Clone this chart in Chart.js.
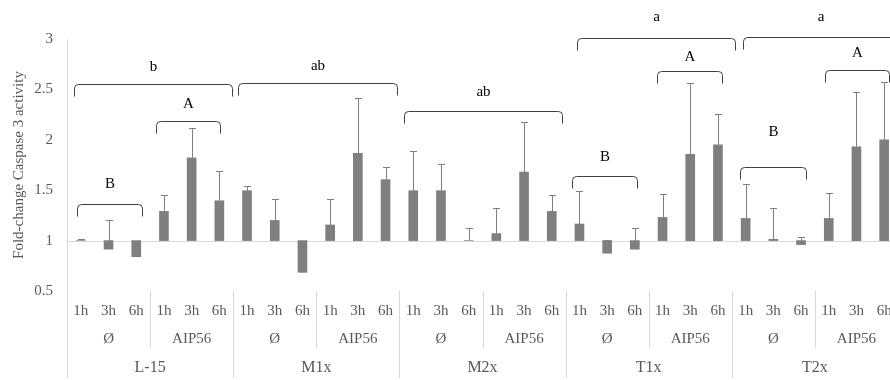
<!DOCTYPE html>
<html><head><meta charset="utf-8">
<script src="https://cdn.jsdelivr.net/npm/chart.js@4/dist/chart.umd.min.js"></script>
<style>
html,body{margin:0;padding:0;background:#fff;overflow:hidden;width:890px;height:380px}
#wrap{position:relative;width:900px;height:380px}
</style></head>
<body><div id="wrap"><canvas id="c"></canvas></div>
<script>
const groups = ['L-15','M1x','M2x','T1x','T2x'];
const treatments = ['Ø','AIP56'];
const times = ['1h','3h','6h'];
const yTicks = [0.5, 1, 1.5, 2, 2.5, 3];
const yTickLabels = ['0.5','1','1.5','2','2.5','3'];

const foldChange = [
  1.00, 0.915, 0.84,  1.29, 1.82, 1.395,
  1.495, 1.20, 0.685, 1.155, 1.865, 1.605,
  1.495, 1.495, 1.00, 1.07, 1.68, 1.29,
  1.165, 0.875, 0.915, 1.23, 1.855, 1.95,
  1.22, 1.013, 0.96, 1.22, 1.93, 2.00
];
const errorTop = [
  1.02, 1.20, 0.91,  1.455, 2.12, 1.69,
  1.545, 1.41, 0.72, 1.41, 2.41, 1.73,
  1.89, 1.755, 1.125, 1.325, 2.18, 1.455,
  1.495, 1.005, 1.125, 1.465, 2.56, 2.26,
  1.565, 1.325, 1.033, 1.475, 2.47, 2.57
];

// significance brackets: from/to in category index units, y level, label
const groupBracketFrom  = [-0.255, 5.69, 11.67, 17.90, 23.90];
const groupBracketTo    = [5.45, 11.41, 17.37, 23.62, 29.50];
const groupBracketY     = [2.556, 2.566, 2.283, 3.014, 3.017];
const groupBracketLabel = ['b','ab','ab','a','a'];
const groupLabelY       = [2.723, 2.733, 2.469, 3.216, 3.216];

const subBracketFrom  = [-0.146, 2.71, 17.72, 20.79, 23.81, 26.87];
const subBracketTo    = [2.20, 5.03, 20.09, 23.16, 26.17, 29.18];
const subBracketY     = [1.364, 2.19, 1.645, 2.681, 1.735, 2.691];
const subBracketLabel = ['B','A','B','A','B','A'];
const subLabelY       = [1.563, 2.35, 1.827, 2.823, 2.081, 2.861];

const labels = [];
groups.forEach(g => treatments.forEach(t => times.forEach(h => labels.push(g + ' ' + t + ' ' + h))));

const SERIF = '"Liberation Serif", "Times New Roman", serif';
const AXIS_GRAY = '#595959';
const LINE_GRAY = '#d9d9d9';

function bracket(ctx, x1, x2, y, depth) {
  const r = 4;
  ctx.beginPath();
  ctx.moveTo(x1, y + depth);
  ctx.lineTo(x1, y + r);
  ctx.quadraticCurveTo(x1, y, x1 + r, y);
  ctx.lineTo(x2 - r, y);
  ctx.quadraticCurveTo(x2, y, x2, y + r);
  ctx.lineTo(x2, y + depth);
  ctx.stroke();
}

const decorPlugin = {
  id: 'decor',
  beforeDatasetsDraw(chart) {
    const {ctx, chartArea, scales: {x, y}} = chart;
    ctx.save();
    ctx.strokeStyle = LINE_GRAY;
    ctx.lineWidth = 1;
    const y1 = Math.round(y.getPixelForValue(1)) + 0.5;
    ctx.beginPath();
    ctx.moveTo(chartArea.left, y1);
    ctx.lineTo(chartArea.right, y1);
    ctx.stroke();
    ctx.restore();
  },
  afterDatasetsDraw(chart) {
    const {ctx, chartArea, scales: {x, y}} = chart;
    const meta = chart.getDatasetMeta(0);
    ctx.save();
    // error bars
    ctx.strokeStyle = '#7f7f7f';
    ctx.lineWidth = 1;
    meta.data.forEach((bar, i) => {
      const cx = Math.round(bar.x) + 0.5;
      const ya = y.getPixelForValue(foldChange[i]);
      const yb = Math.round(y.getPixelForValue(errorTop[i])) + 0.5;
      ctx.beginPath();
      ctx.moveTo(cx, ya);
      ctx.lineTo(cx, yb);
      ctx.moveTo(cx - 3.5, yb);
      ctx.lineTo(cx + 3.5, yb);
      ctx.stroke();
    });

    // category label table
    const bottom = chartArea.bottom;
    ctx.strokeStyle = LINE_GRAY;
    const lx = Math.round(chartArea.left) + 0.5;
    ctx.beginPath();
    ctx.moveTo(lx, chartArea.top);
    ctx.lineTo(lx, 378);
    ctx.stroke();
    for (let k = 1; k <= 10; k++) {
      const sx = Math.round(x.getPixelForValue(k * 3 - 0.5)) + 0.5;
      const isGroup = k % 2 === 0;
      ctx.beginPath();
      ctx.moveTo(sx, bottom);
      ctx.lineTo(sx, isGroup ? 378 : 348);
      ctx.stroke();
    }
    ctx.fillStyle = AXIS_GRAY;
    ctx.textAlign = 'center';
    ctx.textBaseline = 'middle';
    ctx.font = '15px ' + SERIF;
    labels.forEach((l, i) => {
      ctx.fillText(times[i % 3], x.getPixelForValue(i), bottom + 20);
    });
    for (let j = 0; j < 10; j++) {
      ctx.fillText(treatments[j % 2], x.getPixelForValue(j * 3 + 1), bottom + 48);
    }
    ctx.font = '16px ' + SERIF;
    groups.forEach((g, j) => {
      ctx.fillText(g, x.getPixelForValue(j * 6 + 2.5), bottom + 77);
    });

    // significance brackets
    ctx.strokeStyle = '#404040';
    ctx.fillStyle = '#000';
    ctx.font = '15px ' + SERIF;
    const drawSet = (from, to, yy, lab, ly) => {
      from.forEach((f, i) => {
        const x1 = Math.round(x.getPixelForValue(f)) + 0.5;
        const x2 = Math.round(x.getPixelForValue(to[i])) + 0.5;
        const py = Math.round(y.getPixelForValue(yy[i])) + 0.5;
        bracket(ctx, x1, x2, py, 12);
        ctx.fillText(lab[i], (x1 + x2) / 2, y.getPixelForValue(ly[i]));
      });
    };
    drawSet(groupBracketFrom, groupBracketTo, groupBracketY, groupBracketLabel, groupLabelY);
    drawSet(subBracketFrom, subBracketTo, subBracketY, subBracketLabel, subLabelY);
    ctx.restore();
  }
};

new Chart(document.getElementById('c'), {
  type: 'bar',
  data: {
    labels: labels,
    datasets: [{
      data: foldChange,
      base: 1,
      backgroundColor: '#7f7f7f',
      borderWidth: 0,
      barThickness: 9
    }]
  },
  options: {
    responsive: true,
    maintainAspectRatio: false,
    animation: false,
    events: [],
    layout: { padding: { top: 39, bottom: 89, right: 2, left: 0 } },
    plugins: { legend: { display: false }, tooltip: { enabled: false } },
    scales: {
      x: { display: false },
      y: {
        min: 0.5, max: 3,
        afterFit(s) { s.width = 67; },
        afterBuildTicks(s) { s.ticks = yTicks.map(v => ({ value: v })); },
        grid: { display: false, drawTicks: false },
        border: { display: true, color: LINE_GRAY },
        ticks: {
          padding: 14, color: AXIS_GRAY, font: { family: SERIF, size: 15 },
          callback: (v) => yTickLabels[yTicks.indexOf(v)]
        },
        title: {
          display: true,
          text: 'Fold-change Caspase 3 activity',
          color: AXIS_GRAY,
          font: { family: SERIF, size: 15 },
          padding: { top: 10, bottom: 0 }
        }
      }
    }
  },
  plugins: [decorPlugin]
});
</script>
</body></html>
